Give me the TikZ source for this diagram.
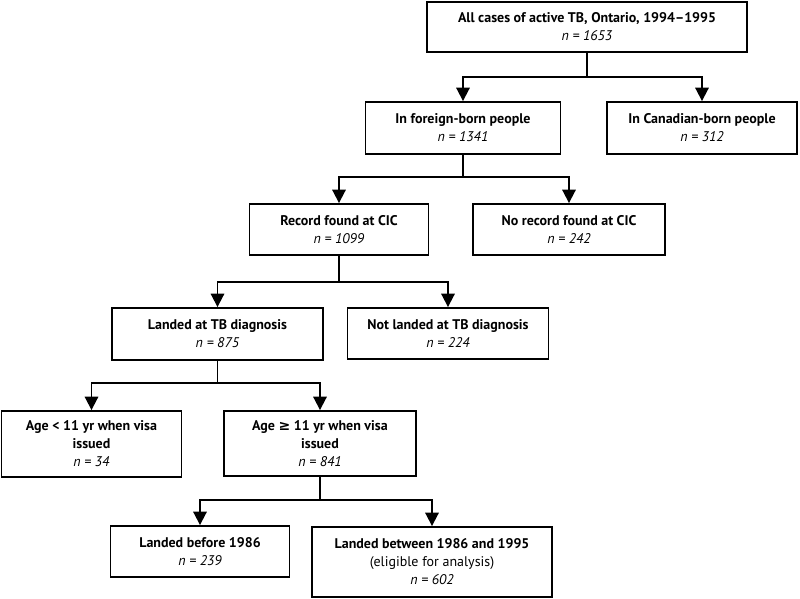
\documentclass[tikz,border=0pt]{standalone}
\usepackage{fontspec}
\setmainfont{PT Sans}
\newfontfamily\symfont{DejaVu Sans}
\usetikzlibrary{arrows.meta}
\begin{document}
\begin{tikzpicture}[x=0.75pt,y=-0.75pt,
  box/.style={draw, line width=1.4pt, align=center, inner sep=0pt,
    font=\fontsize{10.5}{13.5}\selectfont},
  arr/.style={line width=1.4pt, -{Triangle[width=10pt,length=10pt]}},
  ln/.style={line width=1.4pt}]
\useasboundingbox (0,0) rectangle (800,599);

\node[box, minimum width=240pt, minimum height=37.5pt] (top) at (587,27)
  {\textbf{All cases of active TB, Ontario, 1994--1995}\\\textit{n = 1653}};
\node[box, minimum width=146.25pt, minimum height=39pt] (foreign) at (463,128)
  {\textbf{In foreign-born people}\\\textit{n = 1341}};
\node[box, minimum width=142.5pt, minimum height=39pt] (canadian) at (702,128)
  {\textbf{In Canadian-born people}\\\textit{n = 312}};
\node[box, minimum width=134.25pt, minimum height=38.25pt] (record) at (339,229.5)
  {\textbf{Record found at CIC}\\\textit{n = 1099}};
\node[box, minimum width=144pt, minimum height=38.25pt] (norecord) at (569,229.5)
  {\textbf{No record found at CIC}\\\textit{n = 242}};
\node[box, minimum width=158.25pt, minimum height=39pt] (landed) at (217.5,334)
  {\textbf{Landed at TB diagnosis}\\\textit{n = 875}};
\node[box, minimum width=150.75pt, minimum height=38.25pt] (notlanded) at (448,333.5)
  {\textbf{Not landed at TB diagnosis}\\\textit{n = 224}};
\node[box, minimum width=135pt, minimum height=49.5pt] (young) at (91.5,444)
  {\textbf{Age < 11 yr when visa}\\\textbf{issued}\\\textit{n = 34}};
\node[box, minimum width=144pt, minimum height=48.75pt] (old) at (320,443.5)
  {\textbf{Age {\symfont\bfseries ≥} 11 yr when visa}\\\textbf{issued}\\\textit{n = 841}};
\node[box, minimum width=134.25pt, minimum height=38.25pt] (before) at (200,551.5)
  {\textbf{Landed before 1986}\\\textit{n = 239}};
\node[box, minimum width=180pt, minimum height=52.5pt] (between) at (432,562)
  {\textbf{Landed between 1986 and 1995}\\(eligible for analysis)\\\textit{n = 602}};

\coordinate (j1) at (587,77);
\coordinate (j2) at (463,177);
\coordinate (j3) at (339,282);
\coordinate (j4) at (217.5,383);
\coordinate (j5) at (320,500);

\draw[ln] (top.south) -- (j1);
\draw[arr] (j1) -| (foreign.north);
\draw[arr] (j1) -| (canadian.north);
\draw[ln] (foreign.south) -- (j2);
\draw[arr] (j2) -| (record.north);
\draw[arr] (j2) -| (norecord.north);
\draw[ln] (record.south) -- (j3);
\draw[arr] (j3) -| (landed.north);
\draw[arr] (j3) -| (notlanded.north);
\draw[ln] (landed.south) -- (j4);
\draw[arr] (j4) -| (young.north);
\draw[arr] (j4) -| (old.north);
\draw[ln] (old.south) -- (j5);
\draw[arr] (j5) -| (before.north);
\draw[arr] (j5) -| (between.north);
\end{tikzpicture}
\end{document}
